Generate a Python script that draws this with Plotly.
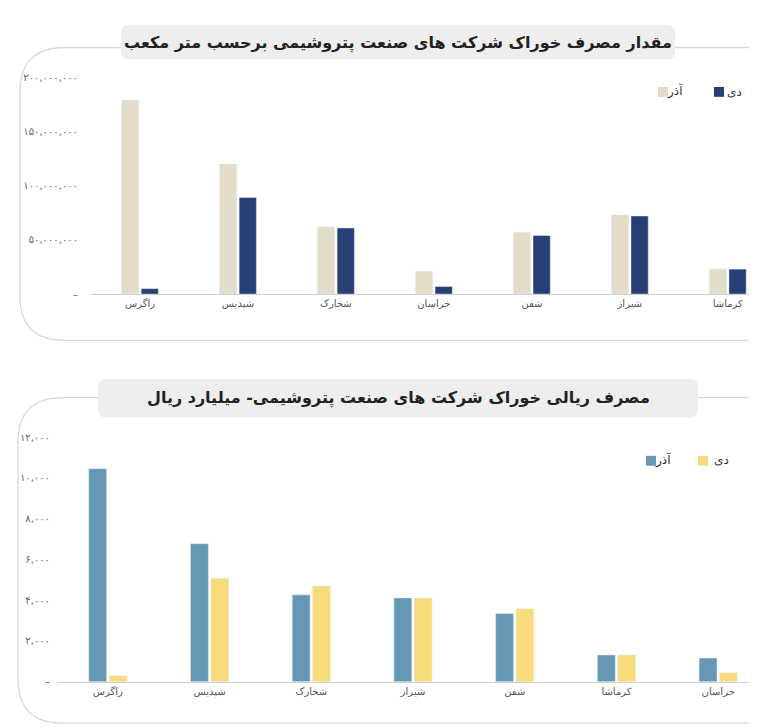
import plotly.graph_objects as go

W, H = 757, 728
cat1 = ["زاگرس", "شپدیس", "شخارک", "خراسان", "شفن", "شیراز", "کرماشا"]
azar1 = [179e6, 120e6, 62e6, 21e6, 57e6, 73e6, 23e6]
dey1 = [5e6, 89e6, 61e6, 7e6, 54e6, 72e6, 23e6]
ticks1 = [0, 50e6, 100e6, 150e6, 200e6]

cat2 = ["زاگرس", "شپدیس", "شخارک", "شیراز", "شفن", "کرماشا", "خراسان"]
azar2 = [10450, 6770, 4260, 4110, 3340, 1310, 1160]
dey2 = [290, 5080, 4690, 4110, 3580, 1310, 435]
ticks2 = [0, 2000, 4000, 6000, 8000, 10000, 12000]

title1 = "مقدار مصرف خوراک شرکت های صنعت پتروشیمی برحسب متر مکعب"
title2 = "مصرف ریالی خوراک شرکت های صنعت پتروشیمی- میلیارد ریال"

FA = str.maketrans("0123456789", "۰۱۲۳۴۵۶۷۸۹")
def fa(v):
    return "–" if v == 0 else f"{int(v):,}".translate(FA)

FONT = "DejaVu Sans"
BEIGE, NAVY, STEEL, YEL = "#e3dcc8", "#263f74", "#6698b5", "#f8dc7c"

fig = go.Figure()
fig.add_bar(x=cat1, y=azar1, marker_color=BEIGE, name="آذر", xaxis="x", yaxis="y", offsetgroup="a")
fig.add_bar(x=cat1, y=dey1, marker_color=NAVY, name="دی", xaxis="x", yaxis="y", offsetgroup="b")
fig.add_bar(x=cat2, y=azar2, marker_color=STEEL, name="آذر", xaxis="x2", yaxis="y2", offsetgroup="a")
fig.add_bar(x=cat2, y=dey2, marker_color=YEL, name="دی", xaxis="x2", yaxis="y2", offsetgroup="b")

def px(x): return x / W
def py(y): return 1 - y / H

def rr(x0, y0, x1, y1, r):
    X0, X1 = px(x0), px(x1)
    Y0, Y1 = py(y1), py(y0)
    rx, ry = r / W, r / H
    return (f"M{X0+rx},{Y0} L{X1-rx},{Y0} Q{X1},{Y0} {X1},{Y0+ry} L{X1},{Y1-ry} "
            f"Q{X1},{Y1} {X1-rx},{Y1} L{X0+rx},{Y1} Q{X0},{Y1} {X0},{Y1-ry} "
            f"L{X0},{Y0+ry} Q{X0},{Y0} {X0+rx},{Y0} Z")

shapes = []
for (x0, y0, x1, y1) in [(12, 35, 790, 332), (10, 390, 790, 720)]:
    shapes.append(dict(type="path", xref="paper", yref="paper", path=rr(x0, y0, x1, y1, 45),
                       line=dict(color="#d9d9d9", width=1.3), fillcolor="rgba(0,0,0,0)", layer="below"))
for (x0, y0, x1, y1) in [(113, 12, 667, 47), (90, 371, 690, 410)]:
    shapes.append(dict(type="path", xref="paper", yref="paper", path=rr(x0, y0, x1, y1, 8),
                       line=dict(width=0), fillcolor="#eeeeee", layer="above"))
def sq(cx, cy, col):
    shapes.append(dict(type="rect", xref="paper", yref="paper", x0=px(cx-5), x1=px(cx+5),
                       y0=py(cy+5), y1=py(cy-5), fillcolor=col, line=dict(width=0)))
sq(655, 80, BEIGE); sq(711, 80, NAVY); sq(643, 454, STEEL); sq(695, 454, YEL)

ann = []
ann.append(dict(x=px(390), y=py(30), text=f"<b>{title1}</b>", font=dict(size=16, color="#222", family=FONT)))
ann.append(dict(x=px(390), y=py(390), text=f"<b>{title2}</b>", font=dict(size=16, color="#222", family=FONT)))
for (x, y, t) in [(667, 79, "آذر"), (726, 80, "دی"), (655, 453, "آذر"), (713, 453, "دی")]:
    ann.append(dict(x=px(x), y=py(y), text=t, font=dict(size=12, color="#333", family=FONT)))
for a in ann:
    a.update(xref="paper", yref="paper", showarrow=False, xanchor="center", yanchor="middle")

fig.update_layout(
    width=W, height=H, margin=dict(l=0, r=0, t=0, b=0),
    paper_bgcolor="white", plot_bgcolor="white", showlegend=False,
    barmode="group", bargap=0.6, bargroupgap=0.12,
    font=dict(family=FONT, size=11, color="#555"),
    shapes=shapes, annotations=ann,
    xaxis=dict(domain=[px(83), 1], range=[-0.5, 6.38], showgrid=False, showline=True,
               linecolor="#d0d0d0", ticks="", tickfont=dict(size=10, color="#555"), anchor="y"),
    yaxis=dict(domain=[py(285), py(65)], range=[0, 200e6], tickvals=ticks1,
               ticktext=[fa(v) for v in ticks1], showgrid=False, zeroline=False,
               tickfont=dict(size=10, color="#666"), anchor="x", ticklabelstandoff=12),
    xaxis2=dict(domain=[px(49), 1], range=[-0.5, 6.46], showgrid=False, showline=True,
                linecolor="#d0d0d0", ticks="", tickfont=dict(size=10, color="#555"), anchor="y2"),
    yaxis2=dict(domain=[py(678), py(430)], range=[0, 12000], tickvals=ticks2,
                ticktext=[fa(v) for v in ticks2], showgrid=False, zeroline=False,
                tickfont=dict(size=10, color="#666"), anchor="x2", ticklabelstandoff=6),
)
fig.write_html("out.html")
